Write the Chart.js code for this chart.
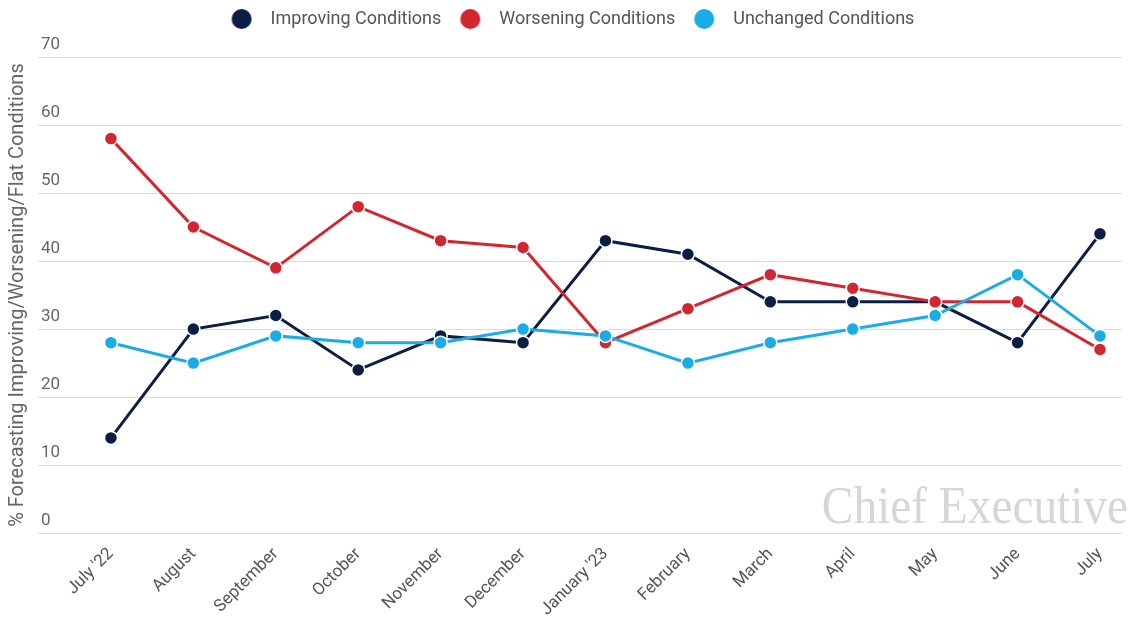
<!DOCTYPE html>
<html>
<head>
<meta charset="utf-8">
<script src="https://cdn.jsdelivr.net/npm/chart.js@4.4.1/dist/chart.umd.min.js"></script>
<style>
  html, body { margin: 0; padding: 0; background: #fff; }
  #wrap { width: 1130px; height: 618px; position: relative; }
</style>
</head>
<body>
<div id="wrap"><canvas id="chart"></canvas></div>
<script>
// data
const months = ["July '22", "August", "September", "October", "November", "December",
  "January '23", "February", "March", "April", "May", "June", "July"];
const improving = [14, 30, 32, 24, 29, 28, 43, 41, 34, 34, 34, 28, 44];
const worsening = [58, 45, 39, 48, 43, 42, 28, 33, 38, 36, 34, 34, 27];
const unchanged = [28, 25, 29, 28, 28, 30, 29, 25, 28, 30, 32, 38, 29];
const yTicks = [0, 10, 20, 30, 40, 50, 60, 70];

const NAVY = '#0b1f45';
const RED = '#d22630';
const BLUE = '#1bace6';

function toPoints(arr) {
  return arr.map((v, i) => ({ x: i, y: v }));
}

function makeSet(label, vals, color, order) {
  return {
    label: label,
    data: toPoints(vals),
    borderColor: color,
    backgroundColor: color,
    borderWidth: 3,
    pointRadius: 6.5,
    pointBackgroundColor: color,
    pointBorderColor: '#fff',
    pointBorderWidth: 1.5,
    tension: 0,
    order: order,
  };
}

// round legend dot as a small canvas, so the gap to the text can be wider
function dot(color) {
  const c = document.createElement('canvas');
  c.width = 22;
  c.height = 22;
  const g = c.getContext('2d');
  g.fillStyle = color;
  g.beginPath();
  g.arc(11, 11, 10, 0, Math.PI * 2);
  g.fill();
  return c;
}

// push the plot down below the legend
const legendGap = {
  id: 'legendGap',
  beforeInit(chart) {
    const fit = chart.legend.fit;
    chart.legend.fit = function () {
      fit.bind(chart.legend)();
      this.height += 19;
    };
  }
};

// "Chief Executive" watermark
const watermark = {
  id: 'watermark',
  afterDatasetsDraw(chart) {
    const ctx = chart.ctx;
    const area = chart.chartArea;
    ctx.save();
    ctx.translate(1128, area.bottom - 10);
    ctx.scale(0.91, 1);
    ctx.font = '52px "Liberation Serif", "DejaVu Serif", serif';
    ctx.fillStyle = '#d6d6d6';
    ctx.textAlign = 'right';
    ctx.textBaseline = 'alphabetic';
    ctx.fillText('Chief Executive', 0, 0);
    ctx.restore();
  }
};

Chart.defaults.font.family = 'Roboto, "Noto Sans", sans-serif';

new Chart(document.getElementById('chart'), {
  type: 'line',
  data: {
    datasets: [
      makeSet('Improving Conditions', improving, NAVY, 3),
      makeSet('Worsening Conditions', worsening, RED, 2),
      makeSet('Unchanged Conditions', unchanged, BLUE, 1),
    ],
  },
  options: {
    responsive: true,
    maintainAspectRatio: false,
    animation: false,
    layout: { padding: { left: 6, right: 0, top: 1, bottom: -5 } },
    plugins: {
      legend: {
        position: 'top',
        labels: {
          usePointStyle: true,
          pointStyleWidth: 40,
          color: '#555',
          font: { size: 18 },
          padding: 9,
          sort: (a, b) => a.datasetIndex - b.datasetIndex,
          generateLabels(chart) {
            const items = Chart.defaults.plugins.legend.labels.generateLabels(chart);
            items.forEach(it => { it.pointStyle = dot(chart.data.datasets[it.datasetIndex].borderColor); });
            return items;
          },
        },
      },
      tooltip: { enabled: false },
    },
    scales: {
      x: {
        type: 'linear',
        min: -0.885,
        max: 12.267,
        grid: { display: false },
        border: { display: false },
        afterBuildTicks: (s) => { s.ticks = months.map((m, i) => ({ value: i })); },
        ticks: {
          autoSkip: false,
          minRotation: 45,
          maxRotation: 45,
          color: '#555',
          font: { size: 17 },
          callback: (v) => months[v],
        },
      },
      y: {
        min: 0,
        max: 70,
        afterBuildTicks: (s) => { s.ticks = yTicks.map(v => ({ value: v })); },
        grid: { color: '#dcdcdc', drawTicks: false },
        border: { display: false },
        ticks: {
          mirror: true,
          padding: 3,
          labelOffset: -12,
          color: '#666',
          font: { size: 17 },
        },
        title: {
          display: true,
          text: '% Forecasting Improving/Worsening/Flat Conditions',
          color: '#666',
          font: { size: 20 },
          padding: { top: 0, bottom: 2 },
        },
      },
    },
  },
  plugins: [legendGap, watermark],
});
</script>
</body>
</html>
